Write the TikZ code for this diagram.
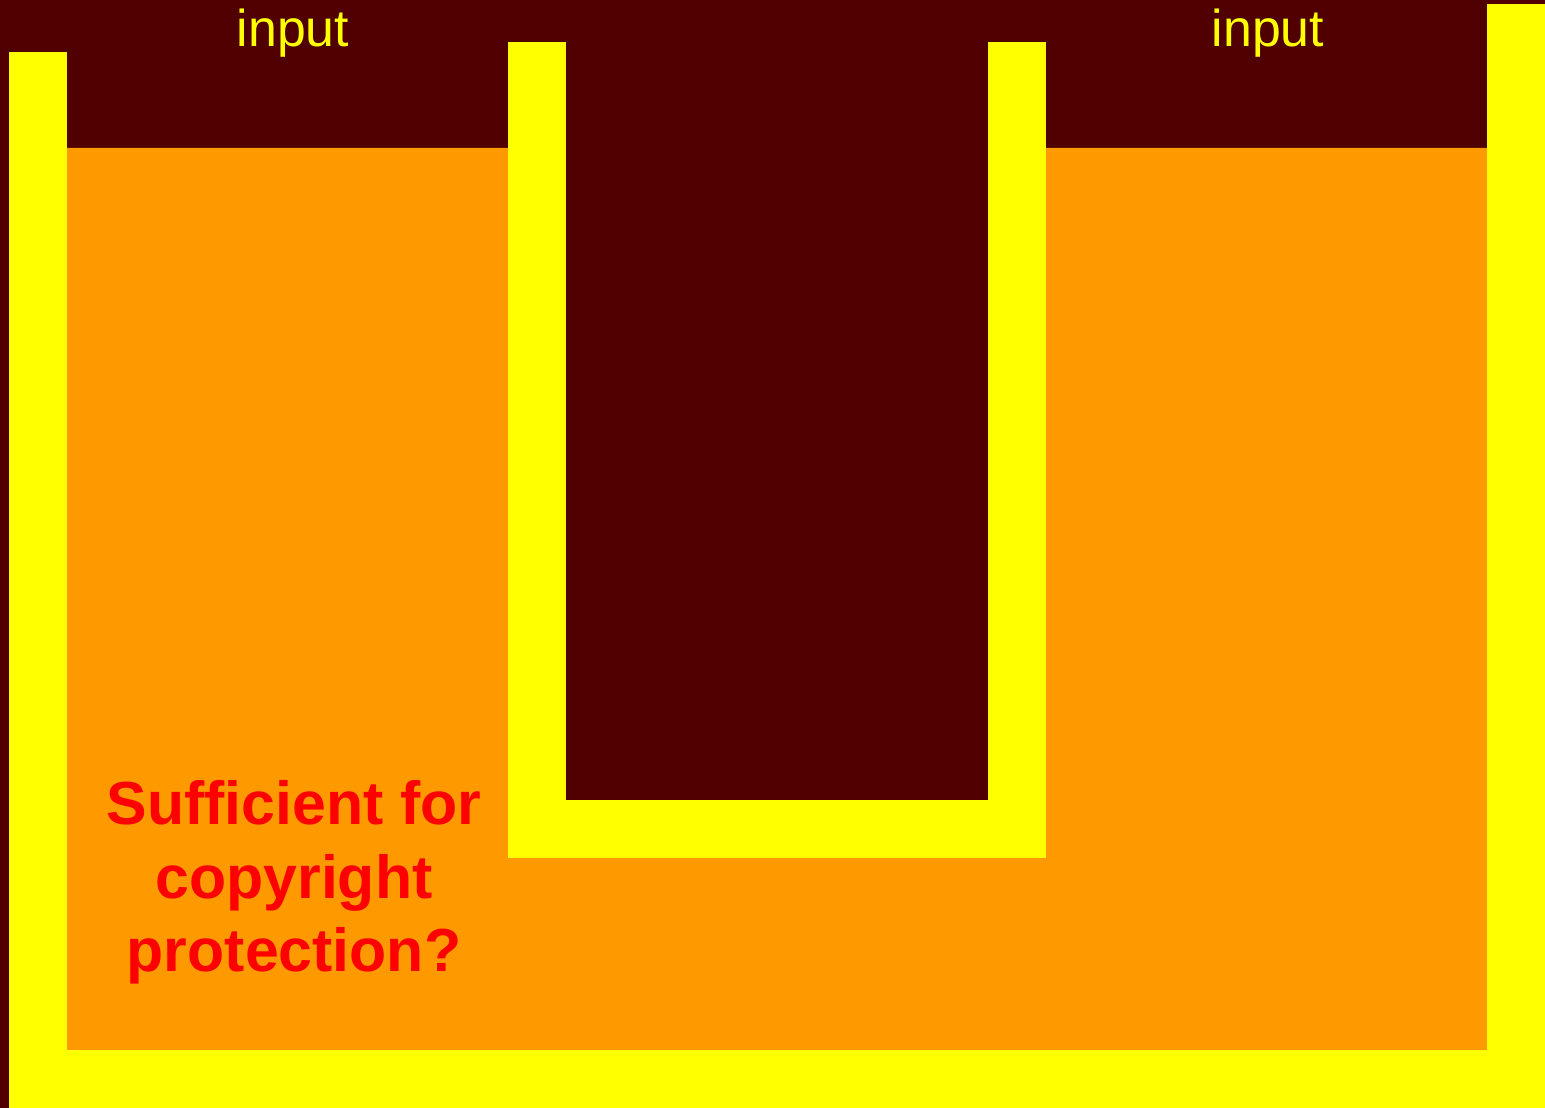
\documentclass[tikz,border=0pt]{standalone}
\usepackage{fontspec}
\setmainfont{Liberation Sans}
\definecolor{bgred}{RGB}{80,0,0}
\definecolor{wallyellow}{RGB}{255,255,0}
\definecolor{tankorange}{RGB}{255,153,0}
\definecolor{qred}{RGB}{255,0,0}
\tikzset{
  wallbar/.style={fill=wallyellow},
  inlabel/.style={text=wallyellow, inner sep=0pt, anchor=base, font=\fontsize{29.5}{34}\selectfont},
  question/.style={text=qred, inner sep=0pt, anchor=north, align=center,
    font=\fontsize{34.6}{42}\selectfont\bfseries}
}
\begin{document}
\begin{tikzpicture}[x=0.02cm, y=-0.02cm]
  % background
  \fill[bgred] (0,0) rectangle (1545,1108);
  \useasboundingbox (0,0) rectangle (1545,1108);

  % the orange filling round the inner U
  \fill[tankorange] (66,148) -- (508,148) -- (508,858) -- (1046,858) -- (1046,148)
    -- (1487,148) -- (1487,1050) -- (66,1050) -- cycle;

  % outer walls
  \fill[wallbar] (9,52) rectangle (67,1108);
  \fill[wallbar] (1487,4) rectangle (1545,1108);
  \fill[wallbar] (9,1050) rectangle (1545,1108);

  % inner U
  \foreach \x in {508,988}
    \fill[wallbar] (\x,42) rectangle (\x+58,858);
  \fill[wallbar] (508,800) rectangle (1046,858);

  % labels
  \node[inlabel] (inleft) at (293,47) {input};
  \node[inlabel] (inright) at (1268,47) {input};
  \node[question] (ask) at (294,780) {Sufficient for\\copyright\\protection?};
\end{tikzpicture}
\end{document}
